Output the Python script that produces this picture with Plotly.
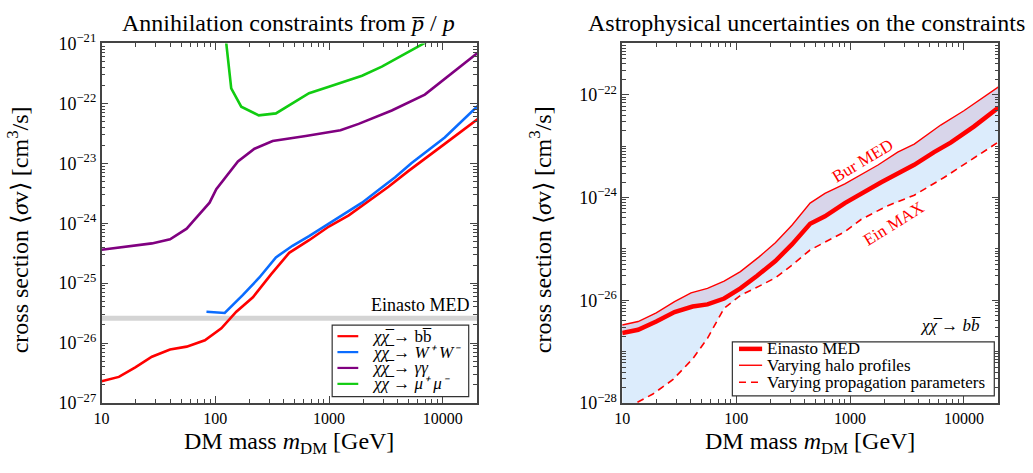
import plotly.graph_objects as go

# ---------------- Left panel data ----------------
mass_bb = [10, 14.2, 19.8, 27.7, 40, 56, 81, 113, 153, 214, 309, 446, 667, 996, 1490, 2150, 3330, 4970, 7430, 10400, 20300]
sigma_bb = [2.3e-27, 2.72e-27, 3.93e-27, 5.9e-27, 7.8e-27, 8.7e-27, 1.11e-26, 1.76e-26, 3.33e-26, 5.8e-26,
            1.4e-25, 3.2e-25, 5.2e-25, 8.8e-25, 1.35e-24, 2.2e-24, 4.06e-24, 7.4e-24, 1.29e-23, 2.11e-23, 5.47e-23]

mass_ww = [83.6, 121, 175, 244, 341, 477, 667, 933, 1300, 1950, 2720, 3810, 5320, 10400, 20300]
sigma_ww = [3.33e-26, 3.17e-26, 6.36e-26, 1.24e-25, 2.69e-25, 4.2e-25, 6.1e-25, 9.1e-25, 1.35e-24, 2.2e-24,
            3.58e-24, 5.85e-24, 1.01e-23, 2.69e-23, 9.1e-23]

mass_gg = [10, 13.7, 20.4, 27.7, 40, 56, 64, 89, 102, 158, 221, 319, 624, 1260, 1820, 3560, 6950, 10400, 20300]
sigma_gg = [3.6e-25, 3.9e-25, 4.3e-25, 4.6e-25, 5.4e-25, 8.1e-25, 1.08e-24, 2.2e-24, 3.7e-24, 1.07e-23, 1.75e-23,
            2.35e-23, 2.86e-23, 3.56e-23, 4.55e-23, 7.6e-23, 1.4e-22, 2.57e-22, 7.0e-22]

mass_mm = [123, 138, 169, 241, 341, 667, 996, 1950, 2910, 4350, 6950, 10000]
sigma_mm = [1.3e-21, 1.78e-22, 8.8e-23, 6.3e-23, 6.8e-23, 1.48e-22, 1.9e-22, 2.9e-22, 4.1e-22, 6.2e-22, 1.0e-21, 1.5e-21]

einasto_med_level = 2.6e-26
mass_range_line = [10, 20000]

# ---------------- Right panel data ----------------
mass_med = [10, 13.8, 19.9, 28.8, 41.5, 56, 78.5, 109, 153, 221, 309, 446, 602, 900, 1880, 3660, 5470, 7640, 12200, 20100]
sigma_med = [2.3e-27, 2.66e-27, 3.85e-27, 5.9e-27, 7.55e-27, 8.3e-27, 1.08e-26, 1.7e-26, 3.0e-26, 5.8e-26,
             1.22e-25, 3.08e-25, 4.3e-25, 7.8e-25, 1.98e-24, 4.34e-24, 7.66e-24, 1.17e-23, 2.4e-23, 5.65e-23]

mass_halo_up = [10, 13.8, 19.9, 28.8, 40.2, 56, 78.5, 109, 158, 221, 309, 446, 602, 900, 1760, 2620, 3660, 6250, 9980, 20100]
sigma_halo_up = [3.3e-27, 3.85e-27, 5.7e-27, 9.35e-27, 1.39e-26, 1.7e-26, 2.36e-26, 3.6e-26, 6.9e-26, 1.31e-25,
                 2.88e-25, 7.8e-25, 1.2e-24, 1.84e-24, 4.3e-24, 7.66e-24, 1.1e-23, 2.58e-23, 4.9e-23, 1.43e-22]

mass_prop_low = [10, 13.3, 18.6, 27.8, 41.5, 56, 78.5, 109, 158, 221, 309, 446, 900, 1257, 2100, 3660, 6680, 12200, 20000]
sigma_prop_low = [4.5e-29, 1.0e-28, 1.49e-28, 2.83e-28, 7.2e-28, 1.81e-27, 7.0e-27, 1.24e-26, 1.86e-26, 2.73e-26,
                  4.8e-26, 9.5e-26, 2.16e-25, 3.77e-25, 6.8e-25, 1.11e-24, 2.45e-24, 5.75e-24, 1.2e-23]

# ---------------- Ticks & labels ----------------
x_tick_vals = [10, 100, 1000, 10000]
x_tick_text = ["10", "100", "1000", "10000"]
y_left_exponents = [-27, -26, -25, -24, -23, -22, -21]
y_right_exponents = [-28, -26, -24, -22]

chi = "<i>χχ̅</i>"
left_names = [chi + " → bb̅", chi + " → <i>W⁺ W⁻</i>", chi + " → <i>γγ</i>", chi + " → <i>μ⁺ μ⁻</i>"]
left_colors = ["#ff0000", "#0a6cff", "#800080", "#11cc11"]
right_names = ["Einasto MED", "Varying halo profiles", "Varying propagation parameters"]

FONT = "Liberation Serif"
W, H = 1033, 473

fig = go.Figure()

# left panel
fig.add_trace(go.Scatter(x=mass_range_line, y=[einasto_med_level] * 2, mode="lines",
                         line=dict(color="#d4d4d4", width=5), showlegend=False, xaxis="x", yaxis="y"))
for m, s, c, n in zip([mass_bb, mass_ww, mass_gg, mass_mm], [sigma_bb, sigma_ww, sigma_gg, sigma_mm],
                      left_colors, left_names):
    fig.add_trace(go.Scatter(x=m, y=s, mode="lines", line=dict(color=c, width=2.6), name=n,
                             showlegend=False, xaxis="x", yaxis="y"))

# right panel fills and lines
fig.add_trace(go.Scatter(x=mass_prop_low + mass_med[::-1], y=sigma_prop_low + sigma_med[::-1],
                         fill="toself", fillcolor="rgb(220,236,252)", mode="none", showlegend=False,
                         xaxis="x2", yaxis="y2", hoverinfo="skip"))
fig.add_trace(go.Scatter(x=mass_med + mass_halo_up[::-1], y=sigma_med + sigma_halo_up[::-1],
                         fill="toself", fillcolor="rgb(216,213,234)", mode="none", showlegend=False,
                         xaxis="x2", yaxis="y2", hoverinfo="skip"))
right_styles = [dict(color="#ff0000", width=4.5), dict(color="#ff0000", width=1.4),
                dict(color="#ff0000", width=1.6, dash="7px,5px")]
for m, s, st, n in zip([mass_med, mass_halo_up, mass_prop_low], [sigma_med, sigma_halo_up, sigma_prop_low],
                       right_styles, right_names):
    fig.add_trace(go.Scatter(x=m, y=s, mode="lines", line=st, name=n, showlegend=False,
                             xaxis="x2", yaxis="y2"))

x_minor = [d * 10 ** e for e in range(1, 5) for d in range(2, 10)]
y_minor = [d * 10.0 ** e for e in range(-29, -20) for d in range(2, 10)]
y2_minor = y_minor + [10.0 ** e for e in (-27, -25, -23, -21)]


def axis_common(minor_vals, fsize):
    return dict(type="log", showline=True, linecolor="#444", linewidth=1.5, mirror="ticks",
                ticks="inside", ticklen=7, tickcolor="#444", showgrid=False, zeroline=False,
                tickfont=dict(family=FONT, size=fsize, color="black"),
                minor=dict(ticks="inside", ticklen=4, tickcolor="#444", tickmode="array",
                           tickvals=minor_vals, showgrid=False))


def pow_text(exps):
    return ["10<sup>−%d</sup>" % (-e) for e in exps]


xl = (94.3 / W, 472.7 / W)
xr = (619 / W, 998 / W)
yd = (1 - 410 / H, 1 - 33 / H)

fig.update_layout(
    width=W, height=H, margin=dict(l=0, r=0, t=0, b=0),
    paper_bgcolor="white", plot_bgcolor="white", showlegend=False,
    font=dict(family=FONT, color="black"),
    xaxis=dict(domain=xl, range=[1, 4.301], tickmode="array", tickvals=x_tick_vals, ticktext=x_tick_text,
               anchor="y", **axis_common(x_minor, 16)),
    yaxis=dict(domain=yd, range=[-27, -21], tickmode="array", tickvals=[10.0 ** e for e in y_left_exponents],
               ticktext=pow_text(y_left_exponents), anchor="x", **axis_common(y_minor, 18)),
    xaxis2=dict(domain=xr, range=[1, 4.301], tickmode="array", tickvals=x_tick_vals, ticktext=x_tick_text,
                anchor="y2", **axis_common(x_minor, 16)),
    yaxis2=dict(domain=yd, range=[-28, -21], tickmode="array", tickvals=[10.0 ** e for e in y_right_exponents],
                ticktext=pow_text(y_right_exponents), anchor="x2", **axis_common(y2_minor, 18)),
)


def px(x):
    return x / W


def py(y):
    return 1 - y / H


# ---- manual legends (box, sample lines, labels) ----
legend_specs = [
    dict(box=(326.7, 328.3, 464.3, 403.3), line_x=(332, 353), text_x=365,
         ys=[340, 356.7, 373.3, 390], names=left_names,
         styles=[dict(color=c, width=2.2) for c in left_colors], size=17),
    dict(box=(730, 346, 994, 402.7), line_x=(736.7, 760), text_x=763,
         ys=[353.3, 370.5, 388.3], names=right_names, styles=right_styles, size=17),
]
for lg in legend_specs:
    x0, y0, x1, y1 = lg["box"]
    fig.add_shape(type="rect", xref="paper", yref="paper", x0=px(x0), x1=px(x1), y0=py(y1), y1=py(y0),
                  line=dict(color="#333", width=1.2), fillcolor="white", layer="above")
    for yy, nm, st in zip(lg["ys"], lg["names"], lg["styles"]):
        fig.add_shape(type="line", xref="paper", yref="paper", x0=px(lg["line_x"][0]), x1=px(lg["line_x"][1]),
                      y0=py(yy), y1=py(yy), line=st, layer="above")
        fig.add_annotation(text=nm, x=px(lg["text_x"]), y=py(yy), xref="paper", yref="paper", showarrow=False,
                           xanchor="left", yanchor="middle", font=dict(family=FONT, size=lg["size"]))

ann = [
    dict(text="Annihilation constraints from <i>p̅</i> / <i>p</i>", x=283, y=12, size=24),
    dict(text="Astrophysical uncertainties on the constraints", x=805, y=12, size=24),
    dict(text="DM mass <i>m</i><sub>DM</sub> [GeV]", x=283, y=452, size=24),
    dict(text="DM mass <i>m</i><sub>DM</sub> [GeV]", x=808, y=452, size=24),
    dict(text="cross section ⟨<i>σ</i>v⟩ [cm<sup>3</sup>/s]", x=10, y=228, size=24, angle=-90),
    dict(text="cross section ⟨<i>σ</i>v⟩ [cm<sup>3</sup>/s]", x=537, y=228, size=24, angle=-90),
    dict(text="Bur MED", x=862, y=156, size=17, angle=-31, color="#ff0000"),
    dict(text="Ein MAX", x=893, y=222, size=17, angle=-32, color="#ff0000"),
]
for a in ann:
    fig.add_annotation(text=a["text"], x=px(a["x"]), y=py(a["y"]), xref="paper", yref="paper",
                       showarrow=False, textangle=a.get("angle", 0), xanchor="center", yanchor="middle",
                       font=dict(family=FONT, size=a["size"], color=a.get("color", "black")))
fig.add_annotation(text="Einasto MED", x=px(468), y=py(307), xref="paper", yref="paper",
                   showarrow=False, xanchor="right", yanchor="middle", font=dict(family=FONT, size=18))
fig.add_annotation(text=chi + " → <i>bb̅</i>", x=px(983), y=py(329), xref="paper", yref="paper",
                   showarrow=False, xanchor="right", yanchor="middle", font=dict(family=FONT, size=17))

fig.write_html("out.html", config={"displayModeBar": False},
               post_script="document.body.style.margin='0';")
